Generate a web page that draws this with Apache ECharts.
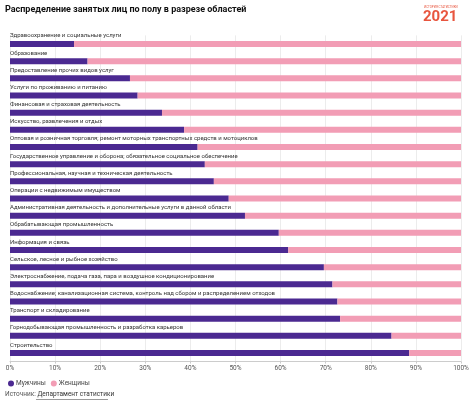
<!DOCTYPE html>
<html><head><meta charset="utf-8">
<script src="https://cdn.jsdelivr.net/npm/echarts@6/dist/echarts.min.js"></script>
<style>html,body{margin:0;padding:0;background:#fff}#c{width:474px;height:403px}</style>
</head><body><div id="c"></div>
<script>
const categories = [
  "Здравоохранение и социальные услуги",
  "Образование",
  "Предоставление прочих видов услуг",
  "Услуги по проживанию и питанию",
  "Финансовая и страховая деятельность",
  "Искусство, развлечения и отдых",
  "Оптовая и розничная торговля; ремонт моторных транспортных средств и мотоциклов",
  "Государственное управление и оборона; обязательное социальное обеспечение",
  "Профессиональная, научная и техническая деятельность",
  "Операции с недвижимым имуществом",
  "Административная деятельность и дополнительные услуги в данной области",
  "Обрабатывающая промышленность",
  "Информация и связь",
  "Сельское, лесное и рыбное хозяйство",
  "Электроснабжение, подача газа, пара и воздушное кондиционирование",
  "Водоснабжение; канализационная система, контроль над сбором и распределением отходов",
  "Транспорт и складирование",
  "Горнодобывающая промышленность и разработка карьеров",
  "Строительство"
];
const men = [14.2, 17.2, 26.6, 28.3, 33.7, 38.6, 41.6, 43.2, 45.2, 48.5, 52.1, 59.6, 61.7, 69.6, 71.5, 72.6, 73.2, 84.6, 88.5];
const women = [85.8, 82.8, 73.4, 71.7, 66.3, 61.4, 58.4, 56.8, 54.8, 51.5, 47.9, 40.4, 38.3, 30.4, 28.5, 27.4, 26.8, 15.4, 11.5];
const xTicks = [0, 10, 20, 30, 40, 50, 60, 70, 80, 90, 100];
const seriesNames = ["Мужчины", "Женщины"];

const chart = echarts.init(document.getElementById('c'), null, {renderer: 'canvas'});
const FONT = 'Roboto, "Noto Sans", sans-serif';
chart.setOption({
  animation: false,
  textStyle: {fontFamily: FONT},
  graphic: [
    {type: 'text', left: 5, top: 5, style: {text: 'Распределение занятых лиц по полу в разрезе областей', font: 'bold 9px ' + FONT, fill: '#111'}},
    {type: 'text', left: 424, top: 6, style: {text: 'ИСТОРИЯ СТАТИСТИКИ', font: '3px ' + FONT, fill: '#e8553e'}},
    {type: 'text', left: 423, top: 10, style: {text: '2021', font: 'bold 15px ' + FONT, fill: '#e8553e'}},
    {type: 'text', left: 5, top: 391, style: {rich: {a: {fill: '#555', fontSize: 6.5, fontFamily: FONT}, b: {fill: '#333', fontSize: 6.5, fontFamily: FONT}}, text: '{a|Источник: }{b|Департамент статистики}'}},
    {type: 'line', shape: {x1: 36, y1: 399.5, x2: 108, y2: 399.5}, style: {stroke: '#555', lineWidth: 0.6}}
  ],
  legend: {
    left: 3, top: 375, itemWidth: 6, itemHeight: 6, itemGap: 5, icon: 'circle',
    textStyle: {fontSize: 6.5, color: '#444', padding: [0, 0, 0, -3]},
    data: seriesNames
  },
  grid: {left: 10, right: 13, top: 35.4, bottom: 41.4, containLabel: false},
  xAxis: {
    type: 'value', min: 0, max: 100, interval: 10,
    axisLabel: {formatter: v => v + '%', fontSize: 6.5, color: '#555', margin: 3},
    splitLine: {lineStyle: {color: '#ececec', width: 1}},
    axisLine: {show: true, lineStyle: {color: '#ccc'}},
    axisTick: {show: true, length: 2, lineStyle: {color: '#ccc'}}
  },
  yAxis: {
    type: 'category', data: categories, inverse: true,
    axisLabel: {show: false}, axisLine: {show: false}, axisTick: {show: false}
  },
  series: [
    {
      name: seriesNames[0], type: 'bar', stack: 's', data: men, barWidth: 6,
      itemStyle: {color: '#4b2991'},
      label: {show: true, position: [0, -8], formatter: p => p.name, fontSize: 6, color: '#333'}
    },
    {
      name: seriesNames[1], type: 'bar', stack: 's', data: women, barWidth: 6,
      itemStyle: {color: '#f29db5'}
    }
  ]
});
</script></body></html>
